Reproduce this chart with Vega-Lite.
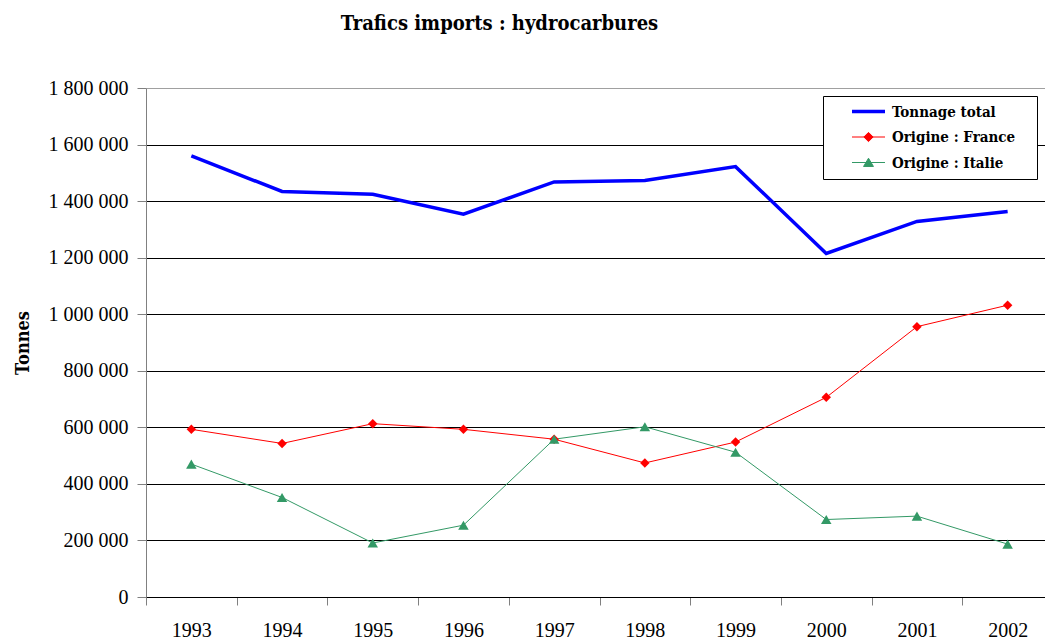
{
  "$schema": "https://vega.github.io/schema/vega-lite/v6.json",
  "width": 899,
  "height": 509,
  "autosize": {"type": "none"},
  "padding": {"left": 146, "top": 88, "right": 0, "bottom": 44},
  "config": {
    "locale": {"number": {"decimal": ",", "thousands": " ", "grouping": [3], "currency": ["", " €"]}},
    "view": {"stroke": null},
    "font": "Liberation Serif"
  },
  "title": {
    "text": "Trafics imports : hydrocarbures",
    "font": "'DejaVu Serif Condensed', 'DejaVu Serif'",
    "fontSize": 20,
    "fontWeight": "bold",
    "color": "#000000",
    "anchor": "middle",
    "dx": -96,
    "offset": 44
  },
  "data": {
    "values": [
      {"annee": "1993", "serie": "Tonnage total", "tonnes": 1560000},
      {"annee": "1994", "serie": "Tonnage total", "tonnes": 1434000},
      {"annee": "1995", "serie": "Tonnage total", "tonnes": 1424000},
      {"annee": "1996", "serie": "Tonnage total", "tonnes": 1354000},
      {"annee": "1997", "serie": "Tonnage total", "tonnes": 1468000},
      {"annee": "1998", "serie": "Tonnage total", "tonnes": 1473000},
      {"annee": "1999", "serie": "Tonnage total", "tonnes": 1522000},
      {"annee": "2000", "serie": "Tonnage total", "tonnes": 1215000},
      {"annee": "2001", "serie": "Tonnage total", "tonnes": 1328000},
      {"annee": "2002", "serie": "Tonnage total", "tonnes": 1363000},
      {"annee": "1993", "serie": "Origine : France", "tonnes": 593000},
      {"annee": "1994", "serie": "Origine : France", "tonnes": 543000},
      {"annee": "1995", "serie": "Origine : France", "tonnes": 613000},
      {"annee": "1996", "serie": "Origine : France", "tonnes": 593000},
      {"annee": "1997", "serie": "Origine : France", "tonnes": 558000},
      {"annee": "1998", "serie": "Origine : France", "tonnes": 474000},
      {"annee": "1999", "serie": "Origine : France", "tonnes": 548000},
      {"annee": "2000", "serie": "Origine : France", "tonnes": 706000},
      {"annee": "2001", "serie": "Origine : France", "tonnes": 956000},
      {"annee": "2002", "serie": "Origine : France", "tonnes": 1032000},
      {"annee": "1993", "serie": "Origine : Italie", "tonnes": 470000},
      {"annee": "1994", "serie": "Origine : Italie", "tonnes": 352000},
      {"annee": "1995", "serie": "Origine : Italie", "tonnes": 191000},
      {"annee": "1996", "serie": "Origine : Italie", "tonnes": 254000},
      {"annee": "1997", "serie": "Origine : Italie", "tonnes": 558000},
      {"annee": "1998", "serie": "Origine : Italie", "tonnes": 602000},
      {"annee": "1999", "serie": "Origine : Italie", "tonnes": 512000},
      {"annee": "2000", "serie": "Origine : Italie", "tonnes": 274000},
      {"annee": "2001", "serie": "Origine : Italie", "tonnes": 286000},
      {"annee": "2002", "serie": "Origine : Italie", "tonnes": 187000}
    ]
  },
  "encoding": {
    "x": {
      "field": "annee",
      "type": "ordinal",
      "bandPosition": 0.5,
      "scale": {"type": "band", "range": [0, 907], "paddingInner": 0, "paddingOuter": 0},
      "axis": {
        "title": null,
        "labelAngle": 0,
        "tickBand": "extent",
        "grid": false,
        "domainColor": "#000000",
        "domainWidth": 1,
        "tickColor": "#808080",
        "tickSize": 8,
        "labelFontSize": 20,
        "labelFont": "Liberation Serif",
        "labelColor": "#000000",
        "labelPadding": 15
      }
    },
    "y": {
      "field": "tonnes",
      "type": "quantitative",
      "scale": {"domain": [0, 1800000], "nice": false},
      "axis": {
        "title": "Tonnes",
        "titleFont": "'DejaVu Serif Condensed', 'DejaVu Serif'",
        "titleFontSize": 18,
        "titleFontWeight": "bold",
        "titleColor": "#000000",
        "titlePadding": 16,
        "values": [0, 200000, 400000, 600000, 800000, 1000000, 1200000, 1400000, 1600000, 1800000],
        "format": ",d",
        "grid": true,
        "gridColor": {"condition": {"test": "datum.value == 1800000", "value": "#a0a0a0"}, "value": "#000000"},
        "gridWidth": 1,
        "domainColor": "#808080",
        "tickColor": "#808080",
        "tickSize": 9,
        "labelPadding": 9,
        "labelFontSize": 20,
        "labelFont": "Liberation Serif",
        "labelColor": "#000000"
      }
    }
  },
  "layer": [
    {
      "mark": {"type": "line", "clip": false},
      "encoding": {
        "color": {
          "field": "serie",
          "type": "nominal",
          "scale": {
            "domain": ["Tonnage total", "Origine : France", "Origine : Italie"],
            "range": ["#0000FF", "#FF0000", "#339966"]
          },
          "legend": {
            "title": null,
            "orient": "top-right",
            "offset": 8,
            "padding": 8,
            "strokeColor": "#000000",
            "fillColor": "#FFFFFF",
            "cornerRadius": 0,
            "labelFont": "'DejaVu Serif Condensed', 'DejaVu Serif'",
            "labelFontSize": 15,
            "labelFontWeight": "bold",
            "labelColor": "#000000",
            "labelLimit": 300,
            "labelOffset": 16,
            "rowPadding": 9.5,
            "symbolSize": 1089,
            "symbolOffset": 30,
            "encode": {
              "symbols": {
                "update": {
                  "shape": {"signal": "datum.value === 'Tonnage total' ? 'M-1,0H1M9.25,0' : datum.value === 'Origine : France' ? 'M-1,0H1M0,-0.28L0.28,0L0,0.28L-0.28,0ZM9.25,0' : 'M-1,0H1M0,-0.26L0.3,0.24L-0.3,0.24ZM9.25,0'"},
                  "strokeWidth": {"signal": "datum.value === 'Tonnage total' ? 3.5 : 1"},
                  "fill": {"signal": "datum.value === 'Origine : France' ? '#FF0000' : datum.value === 'Origine : Italie' ? '#339966' : 'transparent'"},
                  "fillOpacity": {"value": 1},
                  "opacity": {"value": 1}
                }
              }
            }
          }
        },
        "strokeWidth": {"condition": {"test": "datum.serie === 'Tonnage total'", "value": 3.5}, "value": 1}
      }
    },
    {
      "transform": [{"filter": "datum.serie !== 'Tonnage total'"}],
      "mark": {"type": "point", "filled": true, "opacity": 1, "clip": false},
      "encoding": {
        "color": {"field": "serie", "type": "nominal", "legend": null},
        "shape": {
          "field": "serie",
          "type": "nominal",
          "scale": {"domain": ["Origine : France", "Origine : Italie"], "range": ["diamond", "triangle-up"]},
          "legend": null
        },
        "size": {"condition": {"test": "datum.serie === 'Origine : France'", "value": 90}, "value": 110}
      }
    }
  ]
}
